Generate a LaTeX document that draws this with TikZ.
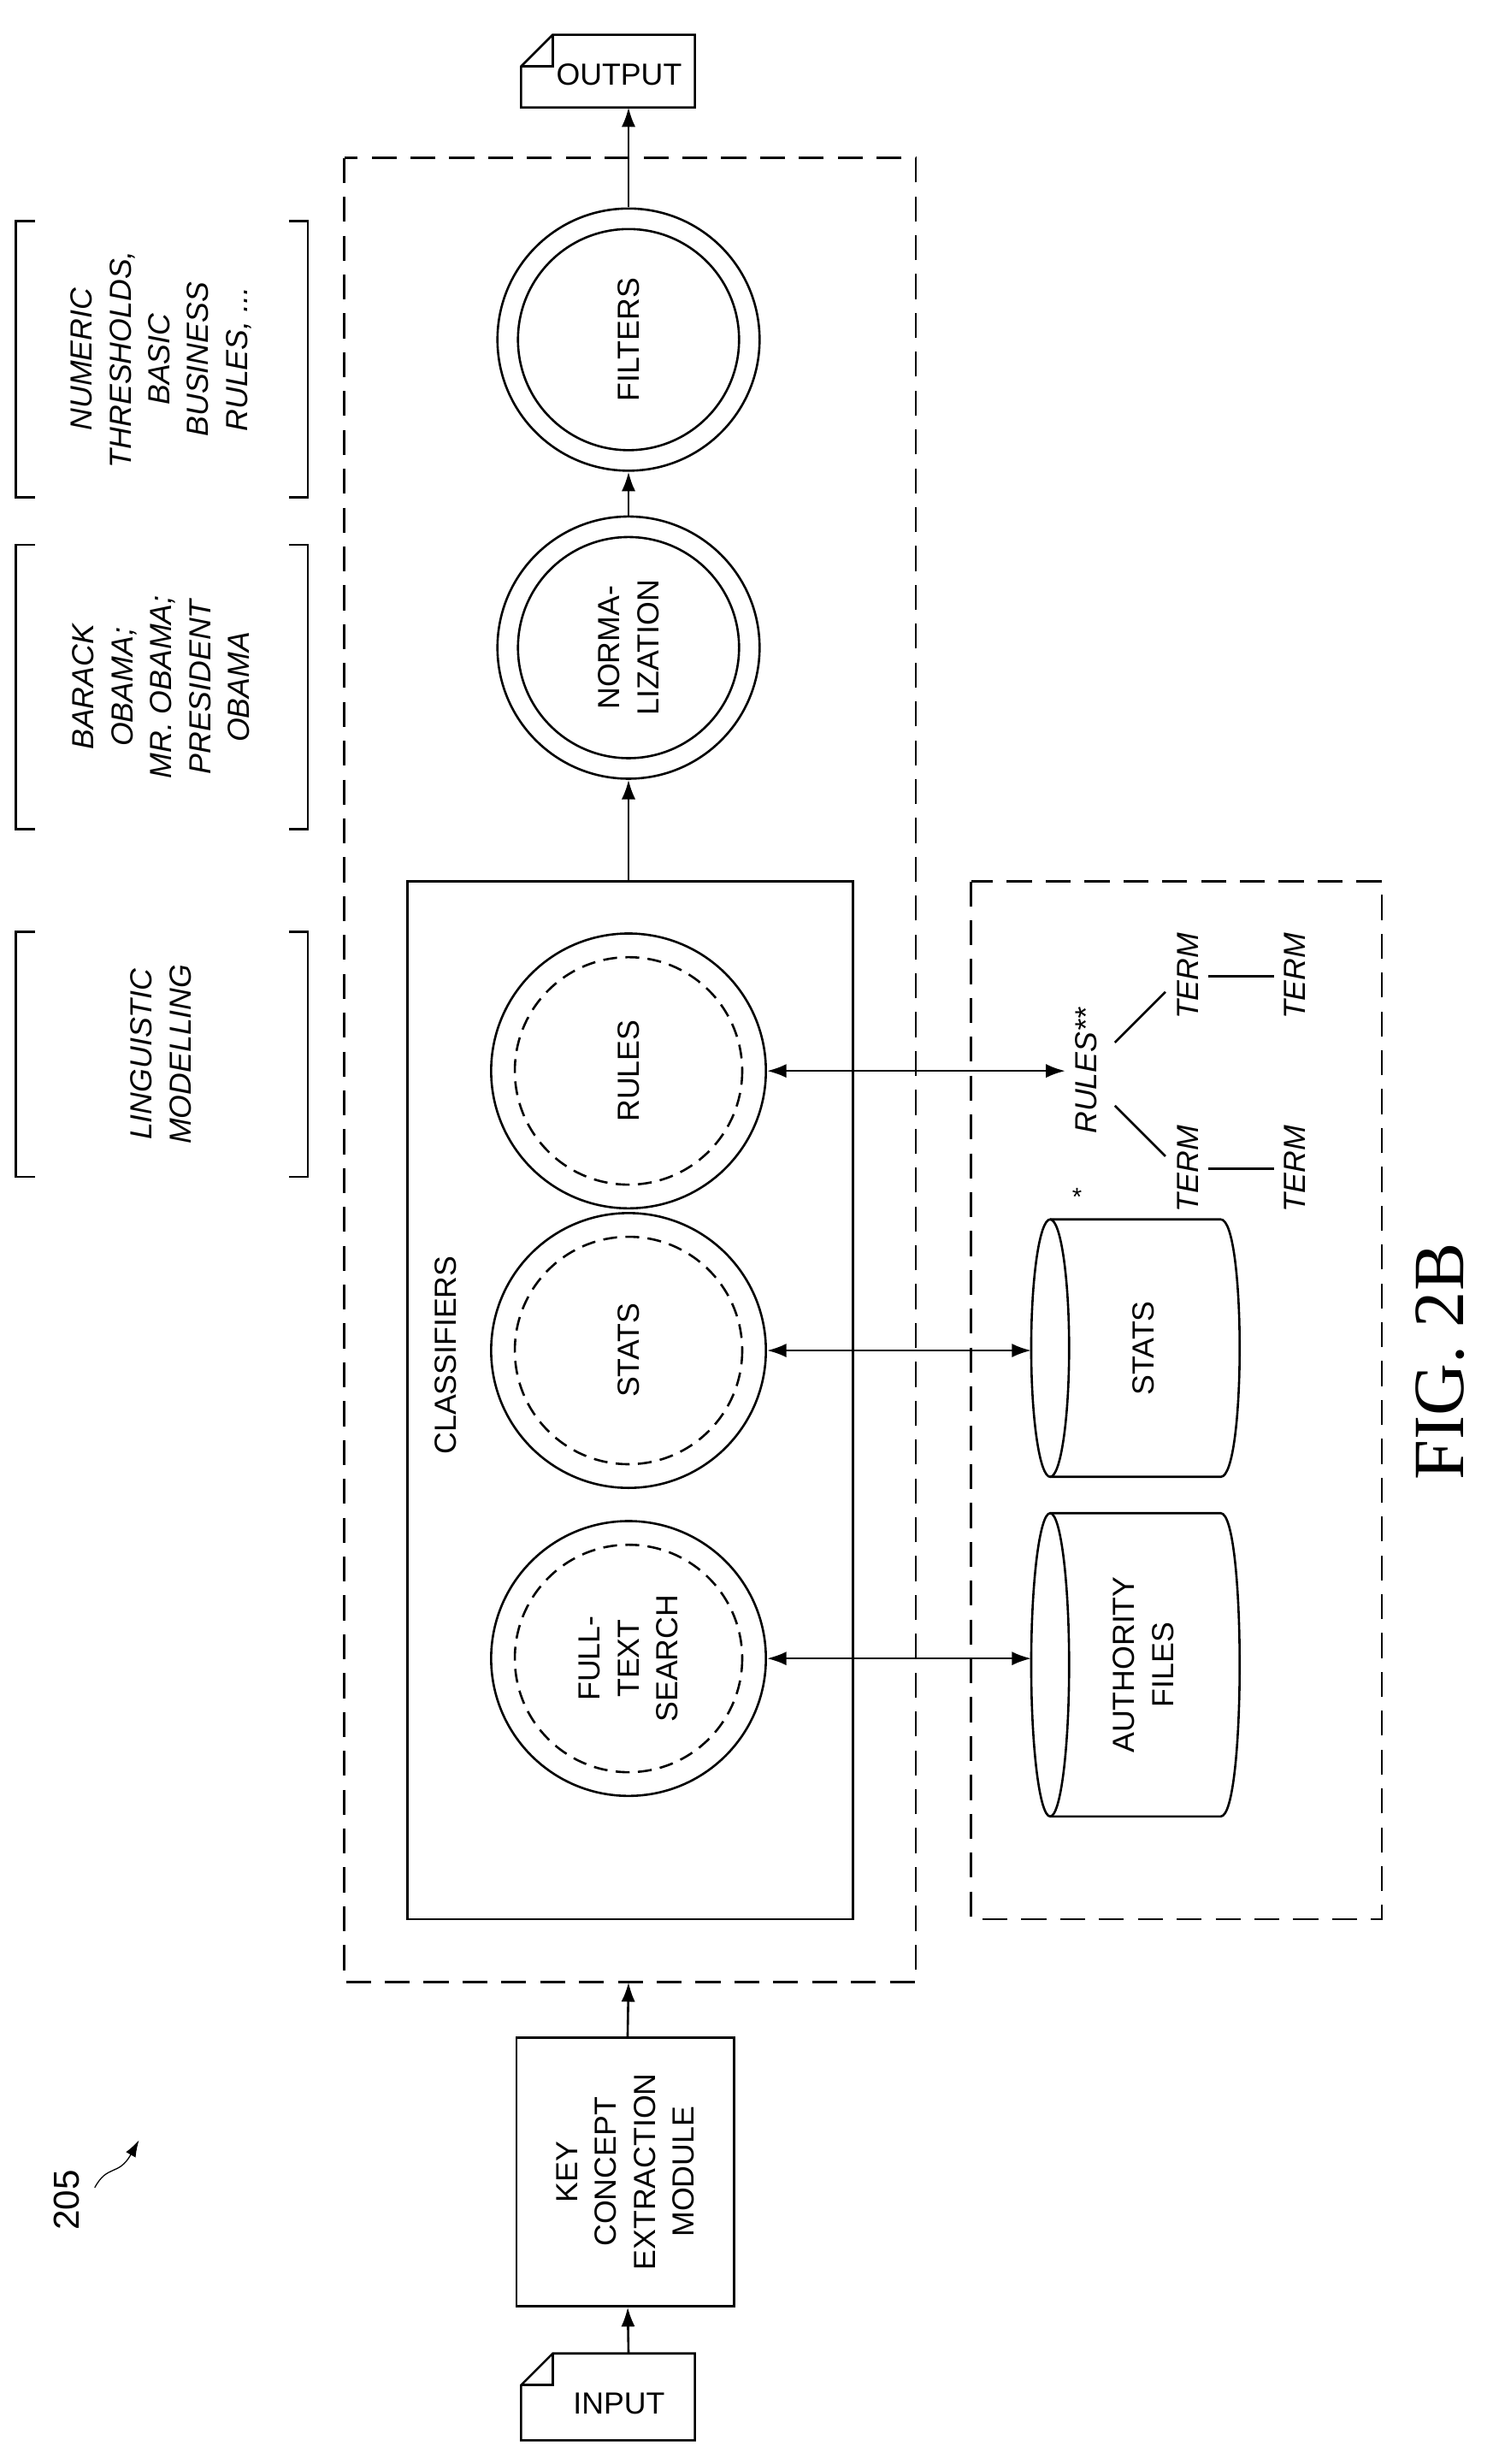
\documentclass[tikz,border=0pt]{standalone}
\usepackage{fontspec}
\setmainfont{Liberation Sans}
\newfontfamily\figfont{Liberation Serif}
\usetikzlibrary{arrows.meta,positioning}
\tikzset{
  lbl/.style = {font=\fontsize{11}{14}\selectfont, align=center, rotate=90},
  ilbl/.style = {lbl, font=\fontsize{11}{14}\selectfont\itshape},
  flow/.style = {-{Latex[length=7pt,width=5pt]}, thick},
  both/.style = {{Latex[length=7pt,width=5pt]}-{Latex[length=7pt,width=5pt]}, thick},
  dbox/.style = {draw, thick, dash pattern=on 9pt off 5pt},
}
\begin{document}
\begin{tikzpicture}[x=0.02cm, y=-0.02cm, line width=0.8pt]
  \useasboundingbox (0,0) rectangle (945,1560);

  % input / output sheets
  \draw[thick] (350,22) -- (440,22) -- (440,68) -- (330,68) -- (330,42) -- cycle;
  \draw[thick] (330,42) -- (350,42) -- (350,22);
  \node[font=\fontsize{11}{14}\selectfont] (out) at (392,47) {OUTPUT};
  \coordinate (outb) at (398,68);
  \draw[thick] (350,1490) -- (440,1490) -- (440,1545) -- (330,1545) -- (330,1510) -- cycle;
  \draw[thick] (330,1510) -- (350,1510) -- (350,1490);
  \node[font=\fontsize{11}{14}\selectfont] (in) at (392,1522) {INPUT};
  \coordinate (int) at (398,1490);

  % key concept module
  \node[draw, thick, lbl, inner sep=0pt,
        minimum height=138*0.02cm, minimum width=170*0.02cm] (kce) at (396,1375)
        {KEY\\CONCEPT\\EXTRACTION\\MODULE};

  % outer boxes
  \draw[dbox] (218,100) rectangle (580,1255);
  \coordinate (bigb) at (398,1255);
  \draw[thick] (258,558) rectangle (540,1215);
  \coordinate (clst) at (398,558);
  \node[lbl] (cls) at (282,858) {CLASSIFIERS};
  \draw[dbox] (615,558) rectangle (875,1215);

  % classifier circles
  \foreach \name/\yy/\txt in {fts/1050/{FULL-\\TEXT\\SEARCH}, sts/855/STATS, rul/678/RULES} {
    \node[circle, draw, thick, minimum size=174*0.02cm] (\name) at (398,\yy) {};
    \draw[thick, dash pattern=on 5pt off 3pt] (\name.center) circle (72);
    \node[lbl] at (\name.center) {\txt};
  }
  % normalization and filters
  \foreach \name/\yy/\txt in {nrm/410/{NORMA-\\LIZATION}, flt/215/FILTERS} {
    \node[circle, draw, thick, minimum size=166*0.02cm] (\name) at (398,\yy) {};
    \draw[thick] (\name.center) circle (70);
    \node[lbl] at (\name.center) {\txt};
  }

  % stores
  \foreach \name/\ya/\yb/\txt in {auth/958/1150/{AUTHORITY\\FILES}, stc/772/935/STATS} {
    \draw[thick] (665,\ya) -- (773,\ya) .. controls (789,\ya) and (789,\yb) .. (773,\yb) -- (665,\yb);
    \draw[thick] (665,{(\ya+\yb)/2}) ellipse (12 and {(\yb-\ya)/2});
    \node[lbl] (\name) at (724,{(\ya+\yb)/2}) {\txt};
    \coordinate (\name w) at (653,{(\ya+\yb)/2});
  }
  \node[font=\small] (ast) at (682,758) {*};
  \node[ilbl] (rls) at (688,678) {RULES**};
  \node[ilbl] (t1) at (752,740) {TERM};
  \node[ilbl] (t2) at (820,740) {TERM};
  \node[ilbl] (t3) at (752,618) {TERM};
  \node[ilbl] (t4) at (820,618) {TERM};
  \draw[thick] (t1) -- (t2);
  \draw[thick] (t3) -- (t4);
  \draw[thick] (706,700) -- (738,732);
  \draw[thick] (706,660) -- (738,628);

  % flow
  \draw[flow] (int) -- (kce);
  \draw[flow] (kce) -- (bigb);
  \draw[flow] (clst) -- (nrm);
  \draw[flow] (nrm) -- (flt);
  \draw[flow] (flt) -- (outb);
  \draw[both] (fts) -- (fts -| authw);
  \draw[both] (sts) -- (sts -| stcw);
  \draw[both] (rul) -- (rls.north);

  % bracket notes
  \foreach \name/\ya/\yb/\txt in {lng/590/745/{LINGUISTIC\\MODELLING},
      oba/345/525/{BARACK\\OBAMA;\\MR. OBAMA;\\PRESIDENT\\OBAMA},
      num/140/315/{NUMERIC\\THRESHOLDS,\\BASIC\\BUSINESS\\RULES, ...}} {
    \draw[thick] (22,\ya) -- (10,\ya) -- (10,\yb) -- (22,\yb);
    \draw[thick] (183,\ya) -- (195,\ya) -- (195,\yb) -- (183,\yb);
    \node[ilbl] (\name) at (102,{(\ya+\yb)/2}) {\txt};
  }

  % reference numeral and caption
  \node[lbl, font=\fontsize{13}{16}\selectfont] (ref) at (42,1393) {205};
  \coordinate (refa) at (88,1355);
  \draw[-{Latex[length=6pt,width=4pt]}, thin] (60,1385) .. controls (68,1370) and (75,1378) .. (refa);
  \node[rotate=90, font=\figfont\fontsize{26}{30}\selectfont] (fig) at (912,862) {FIG. 2B};
\end{tikzpicture}
\end{document}
